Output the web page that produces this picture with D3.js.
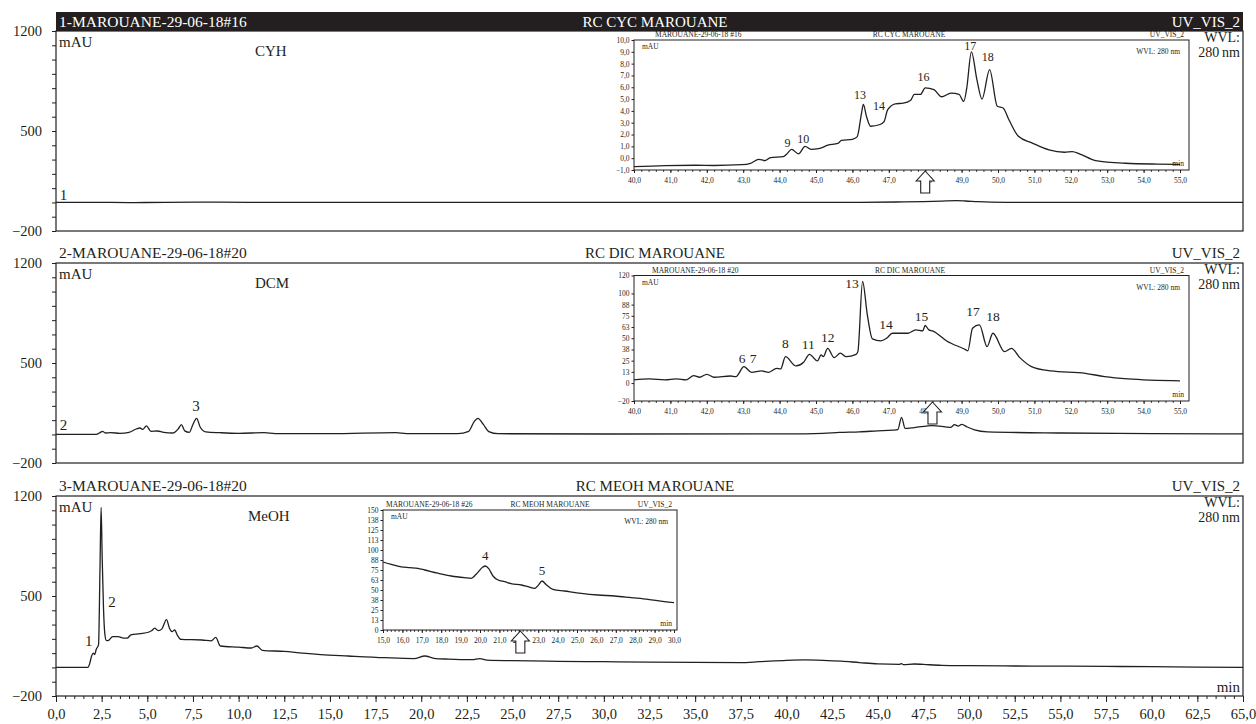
<!DOCTYPE html>
<html>
<head>
<meta charset="utf-8">
<script src="https://cdn.jsdelivr.net/npm/d3@7"></script>
<style>
  body { margin: 0; background: #fff; }
  svg { display: block; }
</style>
</head>
<body>
<div id="chart"></div>
<script>
// ---- main chromatograms (time in min, signal in mAU) ----
const cyhMain = [[0,0],[2,1],[4,-1],[6,1],[9,2],[12,0],[20,1],[30,0],[44,1],[46,3],[47.5,6],[48.5,9],[49.3,12],[49.8,10],[50.5,5],[52,1],[56,0],[65,0]];

const dcmMain = [[0,0],[2.2,0],[2.4,12],[2.55,22],[2.7,10],[3.0,12],[3.5,8],[4.0,15],[4.4,38],[4.6,45],[4.75,35],[4.95,60],[5.2,22],[5.55,24],[5.9,14],[6.4,10],[6.7,40],[6.87,68],[7.05,25],[7.3,15],[7.5,70],[7.7,112],[7.9,50],[8.2,18],[9,12],[10,8],[11.4,12],[12,6],[15,5],[18.6,12],[19.2,6],[22,5],[22.6,22],[22.9,90],[23.1,112],[23.4,70],[23.7,20],[24.2,5],[30,3],[40,4],[42,8],[42.9,14],[44,18],[45,25],[45.8,30],[46.1,34],[46.3,120],[46.5,42],[47,48],[48,62],[49,50],[49.2,68],[49.4,58],[49.6,70],[49.9,52],[50.3,32],[51,18],[55,10],[60,6],[65,4]];

const meohMain = [[0,0],[1.75,0],[1.85,30],[1.95,80],[2.05,100],[2.12,90],[2.2,125],[2.33,160],[2.41,700],[2.47,1120],[2.53,760],[2.6,420],[2.67,240],[2.75,190],[2.85,188],[3.1,215],[3.4,215],[3.7,205],[3.9,205],[4.1,228],[4.6,236],[5.1,248],[5.25,258],[5.4,275],[5.6,258],[5.8,270],[6.05,335],[6.22,272],[6.35,250],[6.5,262],[6.65,225],[6.85,196],[8.0,192],[8.5,186],[8.75,210],[9.0,150],[10.0,142],[10.7,136],[11.0,150],[11.3,120],[12.5,112],[13.5,100],[14.5,90],[16,80],[18,68],[19.6,62],[20.2,80],[20.7,64],[21.5,58],[22.8,54],[23.2,62],[23.6,51],[25,47],[27.5,43],[30,40],[32.5,37],[35,35],[37.5,34],[38.5,40],[40,50],[41,53],[42,50],[43,44],[44,34],[45,25],[46.2,22],[46.3,27],[46.4,19],[47.0,24],[47.5,21],[48.5,15],[50,12],[52.5,10],[55,9],[57.5,7],[60,5],[62.5,2],[65,0]];

// peak labels: [label, time, mAU]
const cyhPeaks = [["1", 0.2, 14]];
const dcmPeaks = [["2", 0.2, 28], ["3", 7.67, 163]];
const meohPeaks = [["1", 1.8, 147], ["2", 3.07, 420]];

// ---- zoomed insets ----
const cycInset = [[40.0,-0.72],[40.85,-0.63],[41.7,-0.6],[42.2,-0.62],[42.96,-0.55],[43.2,-0.43],[43.43,-0.1],[43.6,-0.2],[43.75,0.05],[44.1,0.13],[44.2,0.36],[44.33,0.75],[44.52,0.36],[44.7,1.0],[44.86,0.75],[45.07,0.8],[45.33,1.1],[45.6,1.25],[45.7,1.5],[46.0,1.6],[46.13,1.8],[46.25,3.8],[46.3,4.55],[46.39,3.5],[46.5,2.7],[46.76,2.85],[46.87,3.1],[46.97,4.1],[47.18,4.6],[47.4,4.65],[47.6,4.9],[47.7,5.4],[47.87,5.4],[48.0,5.95],[48.24,5.8],[48.45,5.2],[48.71,5.5],[48.93,5.4],[49.06,4.8],[49.14,5.9],[49.27,9.0],[49.42,6.65],[49.56,5.0],[49.77,7.5],[49.98,4.4],[50.14,4.25],[50.3,3.25],[50.56,1.85],[50.93,1.3],[51.4,0.7],[51.83,0.5],[52.04,0.55],[52.25,0.35],[52.68,-0.2],[53.5,-0.43],[54.37,-0.5],[55,-0.52]];
const cycInsetPeaks = [["9",44.22,0.93],["10",44.65,1.27],["13",46.21,5.04],["14",46.73,4.1],["16",47.95,6.5],["17",49.24,9.15],["18",49.72,8.2]];

const dicInset = [[40.0,3.5],[40.42,4.6],[40.85,3.5],[41.17,4.6],[41.43,3.5],[41.64,8.3],[41.8,6.5],[42.0,9.8],[42.2,6.5],[42.65,7.9],[42.8,7.2],[43.02,18.4],[43.23,12.0],[43.5,13.5],[43.7,12.0],[43.92,16.5],[44.03,15.8],[44.16,29.5],[44.45,19.1],[44.66,23.2],[44.82,32.1],[45.04,24.7],[45.14,31.4],[45.2,29.5],[45.32,38.8],[45.5,28.4],[45.67,33.3],[45.83,29.5],[46.1,32.1],[46.15,35.1],[46.28,113.3],[46.41,76.1],[46.55,49.3],[46.78,47.0],[46.94,50.0],[47.1,55.6],[47.53,55.6],[47.74,59.3],[47.93,58.2],[48.0,64.2],[48.1,59.3],[48.2,58.2],[48.59,47],[49.12,37],[49.17,35.9],[49.3,61.2],[49.49,64.9],[49.7,40.7],[49.86,55.6],[50.18,35.1],[50.37,38.8],[50.6,28.4],[50.92,18.4],[51.45,13.5],[52.4,10.9],[52.93,7.2],[53.57,4.6],[55.0,2.4]];
const dicInsetPeaks = [["6",42.97,22],["7",43.27,22],["8",44.16,39],["11",44.79,38],["12",45.32,45.5],["13",45.99,106.6],["14",46.92,60],["15",47.9,69.7],["17",49.31,75],["18",49.86,69.7]];

const meohInset = [[15.0,85],[15.43,82],[15.94,79],[16.37,78],[16.8,77],[17.15,75],[17.83,71],[18.52,67.5],[19.2,65.4],[19.55,64.6],[19.8,69.6],[20.15,78.75],[20.27,80],[20.45,76.7],[20.67,67.5],[20.93,62.5],[21.27,60.4],[21.6,57.9],[22.13,56.25],[22.47,54.2],[22.82,52],[23.0,55.8],[23.2,61.25],[23.4,57],[23.76,50.8],[24.36,48.75],[25.22,45.8],[26.08,43.75],[26.94,42.5],[27.8,40.4],[28.66,38.3],[29.5,35.4],[30.0,34.2]];
const meohInsetPeaks = [["4",20.27,87.5],["5",23.2,68.75]];

const mainXTicks = d3.range(0, 65.01, 2.5);
const mainXMinor = d3.range(0, 65.01, 0.5);
const mainYTicks = d3.range(-200, 1201, 100);
const mainYLabels = [1200, 500, -200];

const W = 1256, H = 724;
const ink = "#231f20";
const serif = "'Liberation Serif', 'Times New Roman', serif";

const comma1 = d => d3.format(".1f")(d).replace(".", ",").replace("-", "\u2212");
const intLabel = d => String(Math.round(d)).replace("-", "\u2212");

const svg = d3.select("#chart").append("svg")
  .attr("width", W).attr("height", H)
  .style("font-family", serif);

const x = d3.scaleLinear().domain([0, 65]).range([56, 1243]);
const panelH = 200;

const panels = [
  { id: "1-MAROUANE-29-06-18#16", title: "RC CYC MAROUANE", solvent: "CYH", top: 31, dark: true,
    series: cyhMain, peaks: cyhPeaks,
    inset: { id: "MAROUANE-29-06-18 #16", title: "RC CYC MAROUANE", x0: 634, x1: 1180, xr: 1189, y0: 40, y1: 170,
      xDomain: [40, 55], yDomain: [-1, 10], yTicks: d3.range(-1, 10.01, 1), yFmt: comma1,
      xTicks: d3.range(40, 55.01, 1), xMinor: d3.range(40, 55.01, 0.2), arrowAt: 48.0,
      hLeft: 655, hCenter: 909, series: cycInset, peaks: cycInsetPeaks, peakFs: 12 } },
  { id: "2-MAROUANE-29-06-18#20", title: "RC DIC MAROUANE", solvent: "DCM", top: 263, dark: false,
    series: dcmMain, peaks: dcmPeaks,
    inset: { id: "MAROUANE-29-06-18 #20", title: "RC DIC MAROUANE", x0: 634, x1: 1180, xr: 1189, y0: 275.5, y1: 401,
      xDomain: [40, 55], yDomain: [-20, 120], yTicks: [-20, 0, 12.5, 25, 37.5, 50, 62.5, 75, 87.5, 100, 120], yFmt: intLabel,
      xTicks: d3.range(40, 55.01, 1), xMinor: d3.range(40, 55.01, 0.2), arrowAt: 48.2,
      hLeft: 652, hCenter: 910, series: dicInset, peaks: dicInsetPeaks, peakFs: 13.5 } },
  { id: "3-MAROUANE-29-06-18#20", title: "RC MEOH MAROUANE", solvent: "MeOH", top: 496, dark: false,
    series: meohMain, peaks: meohPeaks,
    inset: { id: "MAROUANE-29-06-18 #26", title: "RC MEOH MAROUANE", x0: 383, x1: 674, xr: 677, y0: 510, y1: 630,
      xDomain: [15, 30], yDomain: [0, 150], yTicks: d3.range(0, 150.01, 12.5), yFmt: intLabel,
      xTicks: d3.range(15, 30.01, 1), xMinor: d3.range(15, 30.01, 0.2), arrowAt: 22.08,
      hLeft: 386, hCenter: 550, series: meohInset, peaks: meohInsetPeaks, peakFs: 13 } }
];

function styleAxis(g, fs) {
  g.select(".domain").remove();
  g.attr("font-family", serif);
  g.selectAll("line").attr("stroke", ink);
  g.selectAll("text").attr("fill", ink).style("font-size", fs + "px");
}

function arrowPath(cx, tipY) {
  const hw = 9, sw = 4.5, hh = 10, len = 22;
  return `M${cx},${tipY}L${cx + hw},${tipY + hh}L${cx + sw},${tipY + hh}L${cx + sw},${tipY + len}` +
         `L${cx - sw},${tipY + len}L${cx - sw},${tipY + hh}L${cx - hw},${tipY + hh}Z`;
}

function drawInset(g, c) {
  const ix = d3.scaleLinear().domain(c.xDomain).range([c.x0, c.x1]);
  const iy = d3.scaleLinear().domain(c.yDomain).range([c.y1, c.y0]);

  g.append("rect")
    .attr("x", c.x0).attr("y", c.y0).attr("width", c.xr - c.x0).attr("height", c.y1 - c.y0)
    .attr("fill", "#fff").attr("stroke", ink).attr("stroke-width", 1);

  // header
  const hy = c.y0 - 3;
  g.append("text").attr("x", c.hLeft).attr("y", hy).attr("font-size", 7.5).attr("fill", ink).text(c.id);
  g.append("text").attr("x", c.hCenter).attr("y", hy).attr("font-size", 7.5).attr("fill", ink)
    .attr("text-anchor", "middle").text(c.title);
  g.append("text").attr("x", c.xr - 5).attr("y", hy).attr("font-size", 7.5).attr("fill", ink)
    .attr("text-anchor", "end").text("UV_VIS_2");

  g.append("text").attr("x", c.x0 + 8).attr("y", c.y0 + 9).attr("font-size", 7.5).attr("fill", ink).text("mAU");
  g.append("text").attr("x", c.xr - 9).attr("y", c.y0 + 14).attr("font-size", 7.5).attr("fill", ink)
    .attr("text-anchor", "end").text("WVL: 280 nm");
  g.append("text").attr("x", c.xr - 5).attr("y", c.y1 - 4).attr("font-size", 7.5).attr("fill", ink)
    .attr("text-anchor", "end").text("min");

  // axes
  const ya = g.append("g").attr("transform", `translate(${c.x0},0)`)
    .call(d3.axisLeft(iy).tickValues(c.yTicks).tickFormat(c.yFmt).tickSize(2.5).tickPadding(2));
  styleAxis(ya, 7.5);
  const xm = g.append("g").attr("transform", `translate(0,${c.y1})`)
    .call(d3.axisBottom(ix).tickValues(c.xMinor).tickFormat("").tickSize(1.8));
  styleAxis(xm, 7);
  const xa = g.append("g").attr("transform", `translate(0,${c.y1})`)
    .call(d3.axisBottom(ix).tickValues(c.xTicks).tickFormat(comma1).tickSize(3).tickPadding(5));
  styleAxis(xa, 7.5);

  const line = d3.line().x(d => ix(d[0])).y(d => iy(d[1])).curve(d3.curveMonotoneX);
  g.append("path").datum(c.series).attr("d", line)
    .attr("fill", "none").attr("stroke", ink).attr("stroke-width", 1.3).attr("stroke-linejoin", "round");

  g.selectAll(".ipk").data(c.peaks).join("text")
    .attr("x", d => ix(d[1])).attr("y", d => iy(d[2]))
    .attr("text-anchor", "middle").attr("font-size", c.peakFs).attr("fill", ink)
    .text(d => d[0]);

  g.append("path").attr("d", arrowPath(ix(c.arrowAt), c.y1 + 1))
    .attr("fill", "#fff").attr("stroke", ink).attr("stroke-width", 1.1);
}

panels.forEach((p, i) => {
  const g = svg.append("g");
  const y = d3.scaleLinear().domain([-200, 1200]).range([p.top + panelH, p.top]);
  const [left, right] = x.range();

  // header
  if (p.dark) {
    g.append("rect").attr("x", left).attr("y", p.top - 19).attr("width", right - left).attr("height", 19).attr("fill", ink);
  }
  const hc = p.dark ? "#fff" : ink;
  const hy = p.top - (p.dark ? 4 : 5);
  g.append("text").attr("x", left + 3).attr("y", hy).attr("font-size", 15.5).attr("fill", hc).text(p.id);
  g.append("text").attr("x", 655).attr("y", hy).attr("font-size", 15).attr("fill", hc)
    .attr("text-anchor", "middle").text(p.title);
  g.append("text").attr("x", right - 3).attr("y", hy).attr("font-size", 15).attr("fill", hc)
    .attr("text-anchor", "end").text("UV_VIS_2");

  // frame
  g.append("rect").attr("x", left).attr("y", p.top).attr("width", right - left).attr("height", panelH)
    .attr("fill", "none").attr("stroke", ink).attr("stroke-width", 1.2);

  const ya = g.append("g").attr("transform", `translate(${left},0)`)
    .call(d3.axisLeft(y).tickValues(mainYTicks).tickSize(4).tickPadding(10)
      .tickFormat(d => mainYLabels.includes(d) ? String(d).replace("-", "\u2212") : ""));
  styleAxis(ya, 14.5);

  g.append("text").attr("x", left + 3).attr("y", p.top + 16).attr("font-size", 15).attr("fill", ink).text("mAU");
  g.append("text").attr("x", i === 2 ? 248 : 255).attr("y", p.top + 25).attr("font-size", 15).attr("fill", ink).text(p.solvent);
  g.append("text").attr("x", right - 3).attr("y", p.top + 10.5).attr("font-size", 14).attr("fill", ink)
    .attr("text-anchor", "end").text("WVL:");
  g.append("text").attr("x", right - 3).attr("y", p.top + 26).attr("font-size", 14).attr("fill", ink)
    .attr("text-anchor", "end").text("280\u2009nm");

  const line = d3.line().x(d => x(d[0])).y(d => y(d[1])).curve(d3.curveMonotoneX);
  g.append("path").datum(p.series).attr("d", line)
    .attr("fill", "none").attr("stroke", ink).attr("stroke-width", 1.3).attr("stroke-linejoin", "round");

  g.selectAll(".pk").data(p.peaks).join("text")
    .attr("x", d => x(d[1])).attr("y", d => y(d[2]))
    .attr("text-anchor", d => d[1] < 1 ? "start" : "middle")
    .attr("font-size", 15).attr("fill", ink)
    .text(d => d[0]);

  if (i === 2) {
    const bm = g.append("g").attr("transform", `translate(0,${p.top + panelH})`)
      .call(d3.axisBottom(x).tickValues(mainXMinor).tickFormat("").tickSize(3));
    styleAxis(bm, 14);
    const bx = g.append("g").attr("transform", `translate(0,${p.top + panelH})`)
      .call(d3.axisBottom(x).tickValues(mainXTicks).tickFormat(comma1).tickSize(6).tickPadding(7));
    styleAxis(bx, 14.5);
    g.append("text").attr("x", right - 3).attr("y", p.top + panelH - 4).attr("font-size", 15).attr("fill", ink)
      .attr("text-anchor", "end").text("min");
  }

  drawInset(g, p.inset);
});
</script>
</body>
</html>
